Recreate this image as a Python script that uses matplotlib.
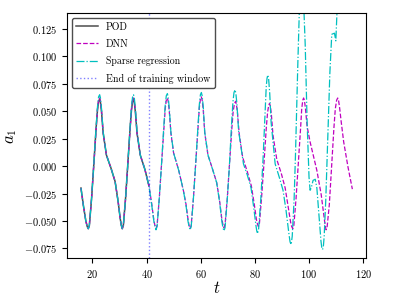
import numpy as np
import matplotlib
matplotlib.use("Agg")
import matplotlib.pyplot as plt
from matplotlib.ticker import FormatStrFormatter

plt.rcParams['font.family'] = 'serif'
plt.rcParams['font.serif'] = ['cmr10']
plt.rcParams['mathtext.fontset'] = 'cm'
plt.rcParams['axes.formatter.use_mathtext'] = True

# DNN prediction
t_dnn = [15.8, 16.7, 17.6, 18.1,
         18.5, 18.9, 19.7, 20.5, 21.4, 21.9, 22.3, 22.7, 23.0, 23.4, 24.0, 25.2, 26.9, 28.4, 29.5, 30.3, 30.7,
         31.05, 31.45, 32.25, 33.05, 33.95, 34.45, 34.85, 35.2, 35.5, 35.9, 36.5, 37.7, 39.4, 40.9, 41.9, 42.7, 43.1,
         43.5, 43.9, 44.7, 45.5, 46.4, 46.9, 47.3, 47.7, 48.0, 48.4, 49.0, 50.0, 51.9, 53.6, 54.6, 55.3, 55.7,
         56.1, 56.5, 57.3, 58.1, 59.0, 59.5, 59.9, 60.25, 60.55, 60.95, 61.5, 62.7, 64.4, 65.9, 67.0, 67.8, 68.2,
         68.6, 69.0, 69.8, 70.6, 71.5, 72.0, 72.5, 72.9, 73.2, 73.6, 74.2, 75.5, 77.2, 78.7, 79.8, 80.6, 81.0,
         81.3, 81.7, 82.5, 83.3, 84.2, 84.7, 85.1, 85.4, 85.7, 86.1, 86.7, 88.1, 89.8, 91.2, 92.3, 93.2, 93.6,
         94.0, 94.4, 95.2, 96.0, 96.9, 97.3, 97.7, 98.0, 98.3, 98.7, 99.3, 100.4, 102.9, 104.5, 105.5, 105.9,
         106.3, 106.7, 107.5, 108.3, 109.2, 109.7, 110.2, 110.6, 110.9, 111.3, 111.9, 112.8, 114.4, 116.0]
a_dnn = [-0.020, -0.036, -0.050, -0.055,
         -0.057, -0.054, -0.030, 0.000, 0.035, 0.052, 0.060, 0.062, 0.059, 0.050, 0.030, 0.010, -0.002, -0.014, -0.032, -0.048, -0.054,
         -0.057, -0.054, -0.030, 0.000, 0.035, 0.052, 0.060, 0.062, 0.059, 0.050, 0.030, 0.010, -0.003, -0.018, -0.034, -0.049, -0.054,
         -0.057, -0.054, -0.030, 0.000, 0.035, 0.052, 0.060, 0.062, 0.059, 0.050, 0.030, 0.012, -0.004, -0.022, -0.035, -0.048, -0.054,
         -0.057, -0.054, -0.030, 0.000, 0.035, 0.053, 0.061, 0.063, 0.060, 0.051, 0.030, 0.010, -0.003, -0.015, -0.032, -0.048, -0.053,
         -0.056, -0.053, -0.030, 0.000, 0.034, 0.050, 0.057, 0.059, 0.056, 0.048, 0.030, 0.008, -0.005, -0.018, -0.035, -0.049, -0.053,
         -0.055, -0.052, -0.028, 0.000, 0.034, 0.049, 0.055, 0.057, 0.055, 0.047, 0.028, 0.006, -0.007, -0.020, -0.037, -0.051, -0.055,
         -0.057, -0.054, -0.030, 0.000, 0.035, 0.052, 0.060, 0.062, 0.060, 0.052, 0.036, 0.022, -0.004, -0.026, -0.045, -0.053,
         -0.058, -0.055, -0.035, -0.002, 0.035, 0.052, 0.060, 0.062, 0.060, 0.053, 0.040, 0.022, -0.001, -0.021]

# POD reference, shown over the training window
t_pod = [15.8, 16.7, 17.6, 18.1,
         18.5, 18.9, 19.7, 20.5, 21.4, 21.9, 22.3, 22.7, 23.0, 23.4, 24.0, 25.2, 26.9, 28.4, 29.5, 30.3, 30.7,
         31.05, 31.45, 32.25, 33.05, 33.95, 34.45, 34.85, 35.2, 35.5, 35.9, 36.5, 37.7, 39.4, 40.9]
a_pod = [-0.020, -0.036, -0.050, -0.055,
         -0.057, -0.054, -0.030, 0.000, 0.035, 0.051, 0.059, 0.061, 0.058, 0.049, 0.030, 0.010, -0.002, -0.014, -0.032, -0.048, -0.054,
         -0.057, -0.054, -0.030, 0.000, 0.035, 0.051, 0.059, 0.061, 0.058, 0.049, 0.030, 0.010, -0.003, -0.018]

# sparse regression
t_sr = [15.8, 16.7, 17.6, 18.1,
        18.5, 18.9, 19.7, 20.5, 21.4, 21.9, 22.3, 22.7, 23.0, 23.4, 24.0, 25.2, 26.9, 28.4, 29.5, 30.3, 30.7,
        31.05, 31.45, 32.25, 33.05, 33.95, 34.45, 34.85, 35.2, 35.5, 35.9, 36.5, 37.7, 39.4, 40.9, 41.9, 42.7, 43.1,
        43.5, 43.9, 44.7, 45.5, 46.4, 46.9, 47.3, 47.7, 48.0, 48.4, 49.0, 50.0, 51.9, 53.6, 54.6, 55.3, 55.7,
        56.1, 56.5, 57.3, 58.1, 59.0, 59.5, 59.9, 60.25, 60.55, 60.95, 61.5, 62.7, 64.4, 65.9, 67.0, 67.8, 68.2,
        68.6, 69.0, 69.8, 70.6, 71.4, 71.9, 72.3, 72.7, 73.0, 73.4, 74.0, 75.8, 77.2, 78.6, 79.6, 80.4, 80.7,
        81.0, 81.4, 82.2, 83.0, 83.8, 84.2, 84.5, 84.8, 85.1, 85.5, 86.0, 87.5, 89.0, 90.4, 91.5, 92.6, 93.0,
        93.4, 93.8, 94.5, 95.0, 95.9, 96.4, 97.2, 98.0, 98.6, 99.3, 100.0, 100.4, 100.8, 101.5, 102.3,
        102.9, 103.7, 104.4, 104.7, 105.0, 105.3, 105.6, 106.2, 107.0, 107.7, 108.4, 109.4, 109.9, 110.3, 111.0]
a_sr = [-0.020, -0.036, -0.050, -0.055,
        -0.057, -0.054, -0.030, 0.000, 0.036, 0.054, 0.063, 0.065, 0.062, 0.052, 0.031, 0.010, -0.002, -0.014, -0.032, -0.048, -0.054,
        -0.057, -0.054, -0.030, 0.000, 0.036, 0.054, 0.063, 0.065, 0.062, 0.052, 0.031, 0.010, -0.003, -0.018, -0.035, -0.050, -0.055,
        -0.058, -0.055, -0.030, 0.000, 0.037, 0.055, 0.064, 0.066, 0.063, 0.053, 0.031, 0.012, -0.004, -0.022, -0.036, -0.050, -0.055,
        -0.058, -0.055, -0.030, 0.000, 0.037, 0.056, 0.065, 0.067, 0.064, 0.054, 0.031, 0.010, -0.003, -0.015, -0.033, -0.050, -0.056,
        -0.059, -0.056, -0.031, 0.000, 0.038, 0.058, 0.067, 0.0695, 0.066, 0.056, 0.032, 0.002, -0.008, -0.020, -0.038, -0.054, -0.059,
        -0.0615, -0.057, -0.030, 0.005, 0.050, 0.072, 0.080, 0.083, 0.079, 0.066, 0.040, 0.002, -0.010, -0.022, -0.040, -0.062, -0.069,
        -0.0715, -0.064, -0.030, 0.010, 0.096, 0.139, 0.170, 0.150, 0.110, 0.040, -0.010, -0.022, -0.020, -0.013, -0.012,
        -0.020, -0.045, -0.068, -0.074, -0.076, -0.073, -0.064, -0.030, 0.030, 0.085, 0.120, 0.121, 0.114, 0.139, 0.180]

t_train_end = 40.8

fig = plt.figure(figsize=(4.07, 3.05), dpi=100)
ax = fig.add_axes([0.165, 0.153, 0.734, 0.803])

ax.plot(t_pod, a_pod, color='0.3', lw=1.1, label='POD')
ax.plot(t_dnn, a_dnn, color='m', ls='--', lw=0.9, label='DNN')
ax.plot(t_sr, a_sr, color='c', ls='-.', lw=0.9, label='Sparse regression')
ax.axvline(t_train_end, color='b', ls=':', lw=1.0, alpha=0.5, label='End of training window')

ax.set_xlim(10.7, 121.0)
ax.set_ylim(-0.084, 0.139)
ax.set_xticks([20, 40, 60, 80, 100, 120])
ax.set_yticks(np.arange(-0.075, 0.126, 0.025))
ax.yaxis.set_major_formatter(FormatStrFormatter('$%.3f$'))
ax.xaxis.set_major_formatter(FormatStrFormatter('$%d$'))
ax.tick_params(labelsize=7.5)
ax.set_xlabel('$t$', fontsize=12, labelpad=0)
ax.set_ylabel('$a_1$', fontsize=12, labelpad=4)

leg = ax.legend(loc='upper left', fontsize=7.2, fancybox=True, framealpha=1,
                labelspacing=0.75, handlelength=2.2)
leg.get_frame().set_edgecolor('0.3')

fig.savefig('out.png', dpi=100)
